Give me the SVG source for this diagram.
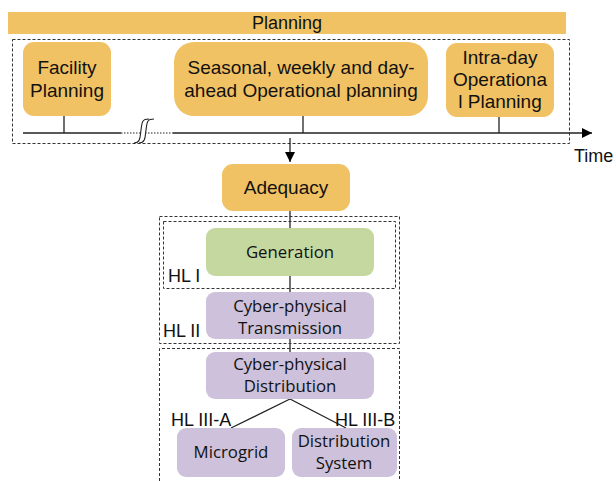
<svg xmlns="http://www.w3.org/2000/svg" width="616" height="481" viewBox="0 0 616 481">
<style>
.ar{font-family:"Liberation Sans",Arial,sans-serif;font-size:19px;fill:#111}
.ca{font-family:"Open Sans","Liberation Sans",sans-serif;font-size:16.8px;fill:#111}
.or{fill:#F1C263}
.gr{fill:#C5D8A0}
.pu{fill:#CDC1DB}
.dash{fill:none;stroke:#333;stroke-width:1;stroke-dasharray:3,2}
.ln{stroke:#222;stroke-width:1.3;fill:none}
</style>
<defs>
<marker id="ah" viewBox="0 0 10 10" refX="10" refY="5" markerWidth="10" markerHeight="10" markerUnits="userSpaceOnUse" orient="auto">
<path d="M0,0 L10,5 L0,10 z" fill="#000"/>
</marker>
</defs>
<g id="planning-bar">
<rect x="8" y="12" width="558" height="22" class="or"/>
<text x="287" y="29" class="ar" text-anchor="middle" style="font-size:18px">Planning</text>
</g>
<g id="planning-frame">
<rect x="12.5" y="39.5" width="557" height="104" class="dash"/>
</g>
<g id="facility">
<rect x="23" y="42" width="88" height="74" rx="11" class="or"/>
<text x="67" y="74" class="ar" text-anchor="middle">Facility</text>
<text x="67" y="97" class="ar" text-anchor="middle">Planning</text>
</g>
<g id="seasonal">
<rect x="174" y="42" width="254" height="74" rx="20" class="or"/>
<text x="301" y="74" class="ar" text-anchor="middle">Seasonal, weekly and day-</text>
<text x="301" y="97" class="ar" text-anchor="middle">ahead Operational planning</text>
</g>
<g id="intraday">
<rect x="446" y="43" width="108" height="74" rx="11" class="or"/>
<text x="500" y="64" class="ar" text-anchor="middle">Intra-day</text>
<text x="500" y="86" class="ar" text-anchor="middle">Operationa</text>
<text x="500" y="108" class="ar" text-anchor="middle">l Planning</text>
</g>
<g id="timeline">
<line x1="23" y1="133" x2="121" y2="133" class="ln"/>
<line x1="121" y1="133" x2="173" y2="133" stroke="#222" stroke-width="1" stroke-dasharray="1.5,1.5"/>
<line x1="173" y1="133" x2="592" y2="133" class="ln" marker-end="url(#ah)"/>
<path d="M134,143 C141,143 140,136 141,130 C142,122 142,119 149,119 L154,119 C147,119 147,122 146,130 C145,136 146,143 139,143 Z" fill="#fff"/>
<path d="M134,143 C141,143 140,136 141,130 C142,122 142,119 149,119" fill="none" stroke="#222" stroke-width="1.1"/>
<path d="M139,143 C146,143 145,136 146,130 C147,122 147,119 154,119" fill="none" stroke="#222" stroke-width="1.1"/>
<text x="574" y="162" class="ar" style="font-size:18px">Time</text>
</g>
<g id="connectors">
<line x1="64" y1="116" x2="64" y2="133" class="ln"/>
<line x1="303" y1="116" x2="303" y2="133" class="ln"/>
<line x1="499" y1="117" x2="499" y2="133" class="ln"/>
<line x1="290" y1="138" x2="290" y2="162" class="ln" marker-end="url(#ah)"/>
<line x1="290" y1="211" x2="290" y2="228" class="ln"/>
<line x1="290" y1="276" x2="290" y2="292" class="ln"/>
<line x1="290" y1="339" x2="290" y2="352" class="ln"/>
<line x1="290" y1="399" x2="231" y2="428" class="ln"/>
<line x1="290" y1="399" x2="346" y2="428" class="ln"/>
</g>
<g id="adequacy">
<rect x="222" y="164" width="128" height="47" rx="11" class="or"/>
<text x="286" y="194" class="ar" text-anchor="middle">Adequacy</text>
</g>
<g id="hl2">
<rect x="159.5" y="216.5" width="240" height="127" class="dash"/>
<text x="163" y="337" class="ar" style="font-size:18px">HL II</text>
</g>
<g id="hl1">
<rect x="163.5" y="221.5" width="232" height="67" class="dash"/>
<text x="168" y="282" class="ar" style="font-size:18px">HL I</text>
</g>
<g id="generation">
<rect x="206" y="228" width="168" height="48" rx="9" class="gr"/>
<text x="290" y="258" class="ca" text-anchor="middle">Generation</text>
</g>
<g id="transmission">
<rect x="206" y="292" width="168" height="47" rx="9" class="pu"/>
<text x="290" y="312" class="ca" text-anchor="middle">Cyber-physical</text>
<text x="290" y="334" class="ca" text-anchor="middle">Transmission</text>
</g>
<g id="hl3">
<path d="M159.5,481 V348.5 H399.5 V481" class="dash"/>
<text x="171" y="426" class="ar" style="font-size:18px">HL III-A</text>
<text x="335" y="426" class="ar" style="font-size:18px">HL III-B</text>
</g>
<g id="distribution">
<rect x="206" y="352" width="168" height="47" rx="9" class="pu"/>
<text x="290" y="370" class="ca" text-anchor="middle">Cyber-physical</text>
<text x="290" y="392" class="ca" text-anchor="middle">Distribution</text>
</g>
<g id="microgrid">
<rect x="177" y="428" width="108" height="49" rx="9" class="pu"/>
<text x="231" y="458" class="ca" text-anchor="middle">Microgrid</text>
</g>
<g id="distsystem">
<rect x="292" y="428" width="105" height="49" rx="9" class="pu"/>
<text x="344" y="447" class="ca" text-anchor="middle">Distribution</text>
<text x="344" y="469" class="ca" text-anchor="middle">System</text>
</g>
</svg>
